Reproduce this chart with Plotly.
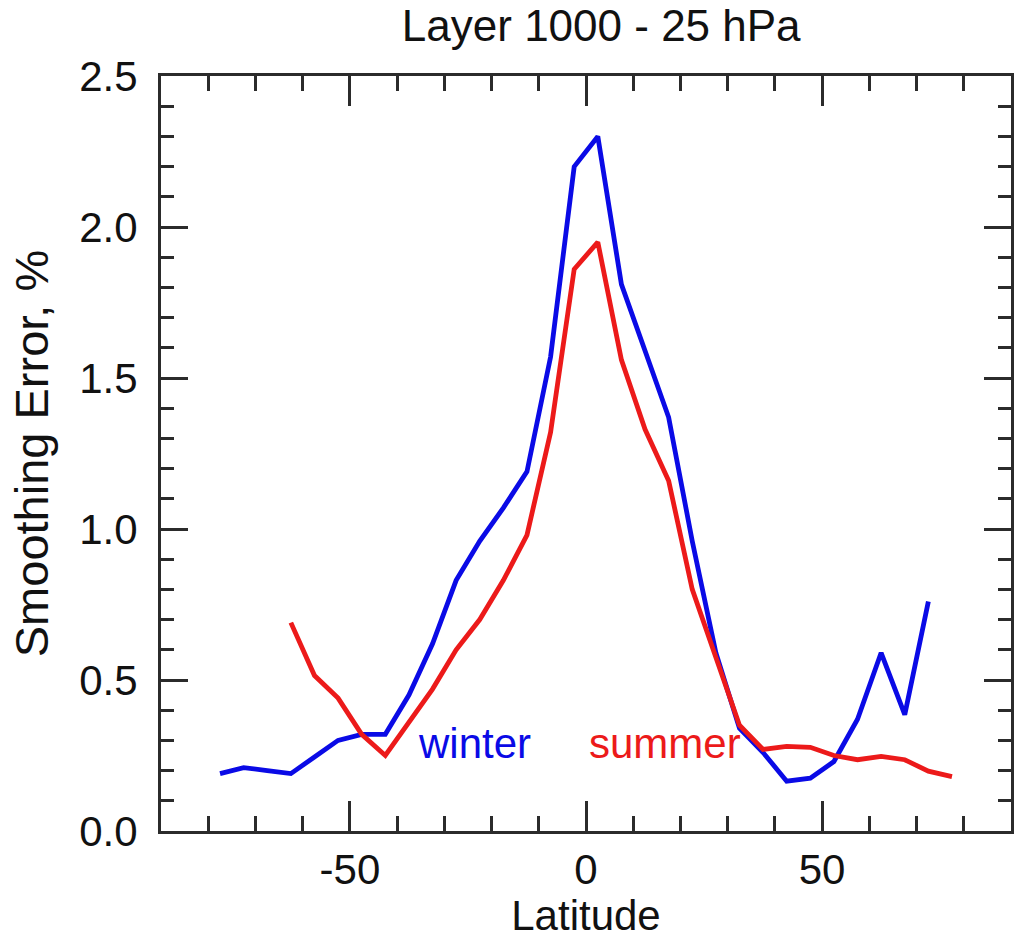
import plotly.graph_objects as go

# Latitude bin centres (degrees)
lat_winter = [-77.5, -72.5, -67.5, -62.5, -57.5, -52.5, -47.5, -42.5, -37.5, -32.5,
              -27.5, -22.5, -17.5, -12.5, -7.5, -2.5, 2.5, 7.5, 12.5, 17.5,
              22.5, 27.5, 32.5, 37.5, 42.5, 47.5, 52.5, 57.5, 62.5, 67.5, 72.5]
err_winter = [0.19, 0.21, 0.20, 0.19, 0.245, 0.30, 0.32, 0.32, 0.45, 0.62,
              0.83, 0.96, 1.07, 1.19, 1.57, 2.20, 2.30, 1.81, 1.59, 1.37,
              0.96, 0.59, 0.34, 0.26, 0.165, 0.175, 0.23, 0.37, 0.59, 0.385, 0.76]

lat_summer = [-62.5, -57.5, -52.5, -47.5, -42.5, -37.5, -32.5, -27.5, -22.5, -17.5,
              -12.5, -7.5, -2.5, 2.5, 7.5, 12.5, 17.5, 22.5, 27.5, 32.5,
              37.5, 42.5, 47.5, 52.5, 57.5, 62.5, 67.5, 72.5, 77.5]
err_summer = [0.69, 0.515, 0.44, 0.32, 0.25, 0.36, 0.47, 0.60, 0.70, 0.83,
              0.98, 1.32, 1.86, 1.95, 1.56, 1.33, 1.16, 0.80, 0.57, 0.35,
              0.27, 0.28, 0.277, 0.25, 0.236, 0.247, 0.236, 0.198, 0.18]

x_ticks = [-50, 0, 50]
y_ticks = [0.0, 0.5, 1.0, 1.5, 2.0, 2.5]
y_tick_text = ["0.0", "0.5", "1.0", "1.5", "2.0", "2.5"]

BLUE = "#0a0ae6"
RED = "#ec1a1a"
AXIS = "#2b2b2b"
FONT = "Liberation Sans, Arial, Helvetica, sans-serif"

fig = go.Figure()
fig.add_trace(go.Scatter(x=lat_winter, y=err_winter, mode="lines",
                         line=dict(color=BLUE, width=4.8), name="winter",
                         showlegend=False))
fig.add_trace(go.Scatter(x=lat_summer, y=err_summer, mode="lines",
                         line=dict(color=RED, width=4.8), name="summer",
                         showlegend=False))

fig.add_annotation(x=-36.0, y=0.29, xref="x", yref="y", text="winter",
                   showarrow=False, xanchor="left", yanchor="middle",
                   font=dict(family=FONT, size=42, color=BLUE))
fig.add_annotation(x=0.2, y=0.29, xref="x", yref="y", text="summer",
                   showarrow=False, xanchor="left", yanchor="middle",
                   font=dict(family=FONT, size=42, color=RED))

fig.update_layout(
    width=1026, height=939,
    margin=dict(l=161, r=13, t=76, b=104),
    paper_bgcolor="white", plot_bgcolor="white",
    font=dict(family=FONT, size=42, color="#111111"),
    title=dict(text="Layer 1000 - 25 hPa", x=0.586, xanchor="center",
               y=0.989, yanchor="top",
               font=dict(family=FONT, size=44, color="#111111")),
)

fig.update_xaxes(
    range=[-90, 90], tickvals=x_ticks, ticktext=[str(v) for v in x_ticks],
    ticks="inside", ticklen=30, tickwidth=3, tickcolor=AXIS,
    showline=True, linewidth=3, linecolor=AXIS, mirror="ticks",
    showgrid=False, zeroline=False,
    tickfont=dict(size=42),
    minor=dict(dtick=10, tick0=0, ticks="inside", ticklen=15, tickwidth=3,
               tickcolor=AXIS, showgrid=False),
    title=dict(text="Latitude", font=dict(size=42), standoff=4),
)
fig.update_yaxes(
    range=[0, 2.5], tickvals=y_ticks, ticktext=y_tick_text,
    ticks="inside", ticklen=27, tickwidth=3, tickcolor=AXIS,
    showline=True, linewidth=3, linecolor=AXIS, mirror="ticks",
    showgrid=False, zeroline=False,
    tickfont=dict(size=42), ticklabelstandoff=12,
    minor=dict(dtick=0.1, tick0=0, ticks="inside", ticklen=13, tickwidth=3,
               tickcolor=AXIS, showgrid=False),
    title=dict(text="Smoothing Error, %", font=dict(size=47), standoff=16),
)

fig.write_html("out.html")
